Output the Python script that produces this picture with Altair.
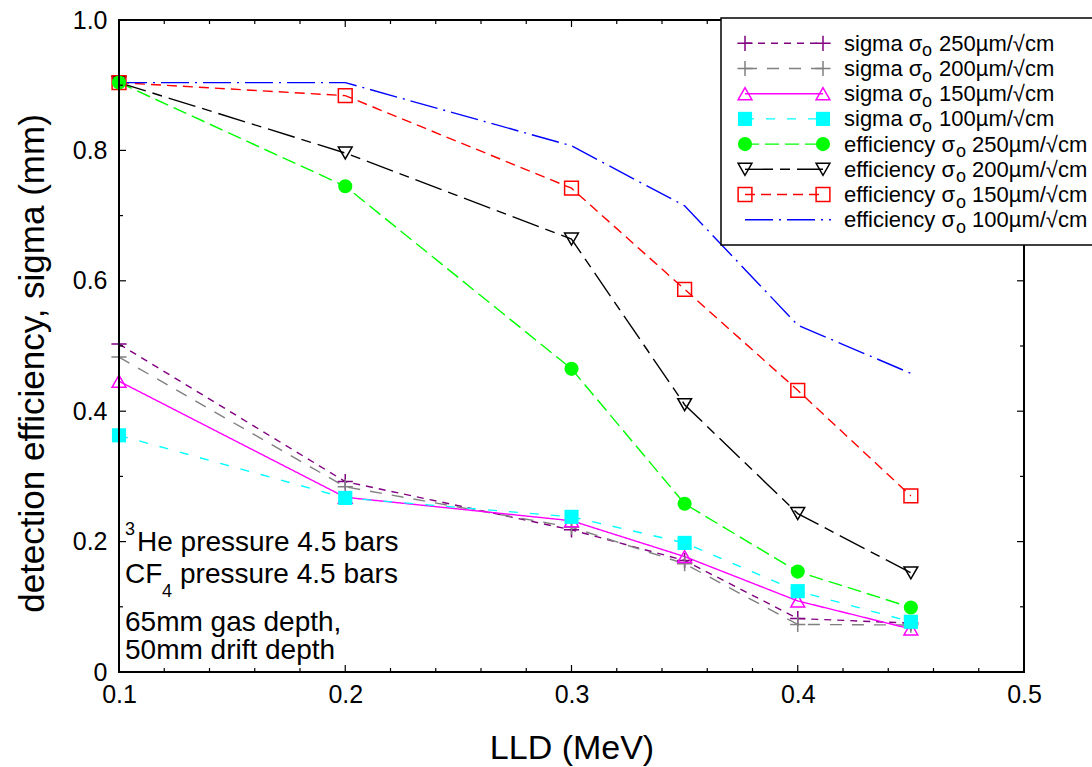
import altair as alt
import pandas as pd

# ---------------- data ----------------
LLD = [0.1, 0.2, 0.3, 0.35, 0.4, 0.45]
sigma_250 = [0.503, 0.292, 0.218, 0.171, 0.082, 0.075]
sigma_200 = [0.483, 0.284, 0.222, 0.166, 0.073, 0.072]
sigma_150 = [0.446, 0.268, 0.232, 0.177, 0.109, 0.066]
sigma_100 = [0.363, 0.267, 0.238, 0.198, 0.124, 0.077]
eff_250 = [0.904, 0.745, 0.465, 0.258, 0.154, 0.099]
eff_200 = [0.904, 0.796, 0.664, 0.410, 0.243, 0.152]
eff_150 = [0.904, 0.884, 0.742, 0.587, 0.432, 0.270]
eff_100 = [0.904, 0.904, 0.807, 0.715, 0.532, 0.458]

series_keys = ["s250", "s200", "s150", "s100", "e250", "e200", "e150", "e100"]
legend_prefix = ["sigma σ", "sigma σ", "sigma σ", "sigma σ",
                 "efficiency σ", "efficiency σ", "efficiency σ", "efficiency σ"]
legend_suffix = ["250µm/√cm", "200µm/√cm", "150µm/√cm", "100µm/√cm",
                 "250µm/√cm", "200µm/√cm", "150µm/√cm", "100µm/√cm"]

x_ticks_major = [0.1, 0.2, 0.3, 0.4, 0.5]
x_ticks_minor = [0.12, 0.14, 0.16, 0.18, 0.22, 0.24, 0.26, 0.28, 0.32, 0.34,
                 0.36, 0.38, 0.42, 0.44, 0.46, 0.48]
y_ticks_major = [0.0, 0.2, 0.4, 0.6, 0.8, 1.0]
y_ticks_minor = [0.1, 0.3, 0.5, 0.7, 0.9]

annot_lines = ["He pressure 4.5 bars", "CF", "pressure 4.5 bars",
               "65mm gas depth,", "50mm drift depth"]

# ---------------- styles ----------------
PLUS = "M-1,0L1,0M0,-1L0,1"
colors = ["#800080", "#808080", "#ff00ff", "#00ffff",
          "#00ff00", "#000000", "#ff0000", "#0000ff"]
dashes = [[7, 6], [12, 10], [1, 0], [9, 12],
          [14, 6], [28, 7, 10, 7], [10, 6], [28, 6, 2, 6]]
shapes = [PLUS, PLUS, "triangle-up", "square",
          "circle", "triangle-down", "square", "circle"]

W, H = 905, 652
FONT = "Liberation Sans"

values = [sigma_250, sigma_200, sigma_150, sigma_100, eff_250, eff_200, eff_150, eff_100]
rows = []
for key, vals in zip(series_keys, values):
    for xv, yv in zip(LLD, vals):
        rows.append({"series": key, "x": xv, "y": yv})
df = pd.DataFrame(rows)

color_scale = alt.Scale(domain=series_keys, range=colors)
dash_scale = alt.Scale(domain=series_keys, range=dashes)
shape_scale = alt.Scale(domain=series_keys, range=shapes)
xs = alt.Scale(domain=[0.1, 0.5], nice=False, zero=False)
ys = alt.Scale(domain=[0, 1], nice=False, zero=False)

xaxis = alt.Axis(values=x_ticks_major, labelExpr="format(datum.value, '.1f')",
                 ticks=False, domain=False, grid=False, labelFontSize=25,
                 labelFlush=False, labelPadding=10, labelColor="black",
                 title="LLD (MeV)", titleFontSize=34, titleFontWeight="normal",
                 titleColor="black", titleY=76, titleBaseline="middle")
yaxis = alt.Axis(values=y_ticks_major,
                 labelExpr="datum.value == 0 ? '0' : format(datum.value, '.1f')",
                 ticks=False, domain=False, grid=False, labelFontSize=25,
                 labelFlush=False, labelPadding=12, labelColor="black",
                 title="detection efficiency, sigma (mm)", titleFontSize=35,
                 titleFontWeight="normal", titleColor="black",
                 titleX=-87, titleY=343, titleBaseline="middle", titleAlign="center")

base = alt.Chart(df)
col = alt.Color("series:N", scale=color_scale, legend=None)
shp = alt.Shape("series:N", scale=shape_scale, legend=None)
X = alt.X("x:Q", scale=xs, axis=xaxis)
Y = alt.Y("y:Q", scale=ys, axis=yaxis)

lines = base.mark_line(strokeWidth=1.4).encode(
    x=X, y=Y, color=col,
    strokeDash=alt.StrokeDash("series:N", scale=dash_scale, legend=None),
    order="x:Q",
)

plus_pts = base.transform_filter(
    alt.FieldOneOfPredicate(field="series", oneOf=["s250", "s200"])
).mark_point(filled=False, strokeWidth=1.5, size=230, opacity=1).encode(
    x=X, y=Y, color=col, shape=shp)

open_pts = base.transform_filter(
    alt.FieldOneOfPredicate(field="series", oneOf=["s150", "e200", "e150"])
).mark_point(filled=False, strokeWidth=1.5, size=190, opacity=1).encode(
    x=X, y=Y, color=col, shape=shp)

filled_pts = base.transform_filter(
    alt.FieldOneOfPredicate(field="series", oneOf=["s100", "e250"])
).mark_point(filled=True, size=200, opacity=1).encode(
    x=X, y=Y, color=col, shape=shp)

# ---------------- inward ticks on all four sides ----------------
def xticks(vals, length):
    d = alt.Chart(pd.DataFrame({"x": vals}))
    bot = d.mark_rule(color="black", strokeWidth=1.2).encode(
        x=X, y=alt.value(H), y2=alt.value(H - length))
    top = d.mark_rule(color="black", strokeWidth=1.2).encode(
        x=X, y=alt.value(0), y2=alt.value(length))
    return [bot, top]

def yticks(vals, length):
    d = alt.Chart(pd.DataFrame({"y": vals}))
    left = d.mark_rule(color="black", strokeWidth=1.2).encode(
        y=Y, x=alt.value(0), x2=alt.value(length))
    right = d.mark_rule(color="black", strokeWidth=1.2).encode(
        y=Y, x=alt.value(W), x2=alt.value(W - length))
    return [left, right]

tick_layers = xticks(x_ticks_major, 7) + xticks(x_ticks_minor, 4) + \
    yticks(y_ticks_major, 7) + yticks(y_ticks_minor, 4)

one = alt.Chart(pd.DataFrame({"a": [0]}))
frame = one.mark_rect(fill="transparent", stroke="black", strokeWidth=2).encode(
    x=alt.value(0), x2=alt.value(W), y=alt.value(0), y2=alt.value(H))

# ---------------- annotation text ----------------
big = dict(font=FONT, fontSize=28, color="black", align="left", baseline="alphabetic")
small = dict(font=FONT, fontSize=18, color="black", align="left", baseline="alphabetic")
annot = [
    one.mark_text(text="3", **small).encode(x=alt.value(6), y=alt.value(515)),
    one.mark_text(text=annot_lines[0], **big).encode(x=alt.value(18), y=alt.value(531)),
    one.mark_text(text=annot_lines[1], **big).encode(x=alt.value(6), y=alt.value(563)),
    one.mark_text(text="4", **small).encode(x=alt.value(43), y=alt.value(577)),
    one.mark_text(text=annot_lines[2], **big).encode(x=alt.value(61), y=alt.value(563)),
    one.mark_text(text=annot_lines[3], **big).encode(x=alt.value(6), y=alt.value(611)),
    one.mark_text(text=annot_lines[4], **big).encode(x=alt.value(6), y=alt.value(639)),
]

# ---------------- legend (drawn by hand) ----------------
leg_rows, leg_pts = [], []
for i, key in enumerate(series_keys):
    cy = 23.3 + i * 25.2
    is_sigma = key.startswith("s")
    leg_rows.append({
        "series": key, "ly": cy, "lx1": 626, "lx2": 712 if key == "e100" else 704,
        "tx": 725, "ty": cy + 7.5, "prefix": legend_prefix[i],
        "ox": 803 if is_sigma else 837, "oy": cy + 13,
        "sx": 820 if is_sigma else 853, "suffix": legend_suffix[i],
    })
    if key != "e100":
        for px in (626, 704):
            leg_pts.append({"series": key, "px": px, "py": cy})
leg_df = pd.DataFrame(leg_rows)
legp_df = pd.DataFrame(leg_pts)

leg_box = one.mark_rect(fill="white", stroke="black", strokeWidth=1.5).encode(
    x=alt.value(602), x2=alt.value(990), y=alt.value(-2), y2=alt.value(225))

lb = alt.Chart(leg_df)
leg_lines = lb.mark_rule(strokeWidth=1.4).encode(
    x=alt.X("lx1:Q", scale=None), x2="lx2:Q", y=alt.Y("ly:Q", scale=None),
    color=col, strokeDash=alt.StrokeDash("series:N", scale=dash_scale, legend=None))
lp = alt.Chart(legp_df)
leg_plus = lp.transform_filter(
    alt.FieldOneOfPredicate(field="series", oneOf=["s250", "s200"])
).mark_point(filled=False, strokeWidth=1.5, size=230, opacity=1).encode(
    x=alt.X("px:Q", scale=None), y=alt.Y("py:Q", scale=None), color=col, shape=shp)
leg_open = lp.transform_filter(
    alt.FieldOneOfPredicate(field="series", oneOf=["s150", "e200", "e150"])
).mark_point(filled=False, strokeWidth=1.5, size=190, opacity=1).encode(
    x=alt.X("px:Q", scale=None), y=alt.Y("py:Q", scale=None), color=col, shape=shp)
leg_filled = lp.transform_filter(
    alt.FieldOneOfPredicate(field="series", oneOf=["s100", "e250"])
).mark_point(filled=True, size=200, opacity=1).encode(
    x=alt.X("px:Q", scale=None), y=alt.Y("py:Q", scale=None), color=col, shape=shp)

ltxt = dict(font=FONT, fontSize=22, color="black", align="left", baseline="alphabetic")
otxt = dict(font=FONT, fontSize=18, color="black", align="left", baseline="alphabetic")
leg_t1 = lb.mark_text(**ltxt).encode(
    x=alt.X("tx:Q", scale=None), y=alt.Y("ty:Q", scale=None), text="prefix:N")
leg_t2 = lb.mark_text(text="o", **otxt).encode(
    x=alt.X("ox:Q", scale=None), y=alt.Y("oy:Q", scale=None))
leg_t3 = lb.mark_text(**ltxt).encode(
    x=alt.X("sx:Q", scale=None), y=alt.Y("ty:Q", scale=None), text="suffix:N")

chart = alt.layer(
    lines, plus_pts, open_pts, filled_pts, *tick_layers, frame, *annot,
    leg_box, leg_lines, leg_plus, leg_open, leg_filled, leg_t1, leg_t2, leg_t3,
).properties(
    width=W, height=H,
    autosize=alt.AutoSizeParams(type="none"),
    padding={"left": 119, "top": 20, "right": 68, "bottom": 95},
).configure(font=FONT).configure_view(strokeWidth=0)

chart.save("out.html", embed_options={"renderer": "svg", "actions": False})
